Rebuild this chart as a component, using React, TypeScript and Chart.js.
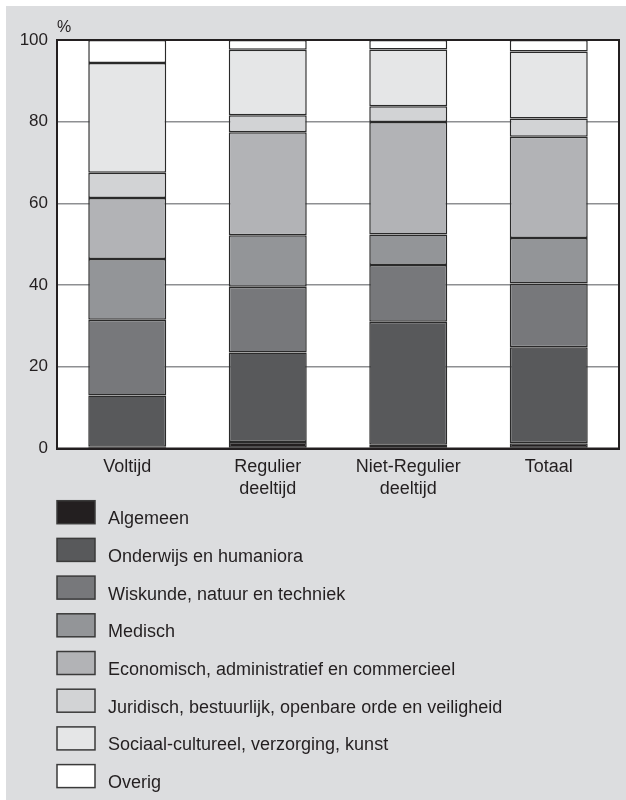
import React, { useEffect, useRef } from "react";
import { Chart, registerables } from "chart.js";

Chart.register(...registerables);

const categories: string[][] = [["Voltijd"], ["Regulier", "deeltijd"], ["Niet-Regulier", "deeltijd"], ["Totaal"]];
const seriesNames = [
  "Algemeen",
  "Onderwijs en humaniora",
  "Wiskunde, natuur en techniek",
  "Medisch",
  "Economisch, administratief en commercieel",
  "Juridisch, bestuurlijk, openbare orde en veiligheid",
  "Sociaal-cultureel, verzorging, kunst",
  "Overig",
];
const algemeen = [0.4, 1.6, 0.9, 1.3];
const onderwijs = [12.6, 21.9, 30.1, 23.5];
const wiskunde = [18.5, 16.1, 13.9, 15.6];
const medisch = [14.9, 12.6, 7.5, 11.1];
const economisch = [14.9, 25.2, 27.5, 24.8];
const juridisch = [6.2, 4.2, 3.9, 4.5];
const sociaal = [26.9, 16.0, 13.9, 16.4];
const overig = [5.6, 2.4, 2.3, 2.8];
const yTicks = [0, 20, 40, 60, 80, 100];
const unitLabel = "%";

const seriesValues = [algemeen, onderwijs, wiskunde, medisch, economisch, juridisch, sociaal, overig];
const colors = ["#231f20", "#58595b", "#77787b", "#939598", "#b2b3b6", "#d2d3d5", "#e5e6e7", "#ffffff"];
const FONT = '"Liberation Sans", Arial, Helvetica, sans-serif';
const INK = "#231f20";

const panelPlugin = {
  id: "panel",
  beforeDraw(chart: any) {
    const { ctx, chartArea } = chart;
    ctx.save();
    ctx.fillStyle = "#ffffff";
    ctx.fillRect(0, 0, chart.width, chart.height);
    ctx.fillStyle = "#dcdddf";
    ctx.fillRect(6, 6, chart.width - 6, chart.height - 6);
    ctx.fillStyle = "#ffffff";
    ctx.fillRect(chartArea.left, chartArea.top, chartArea.right - chartArea.left, chartArea.bottom - chartArea.top);
    ctx.restore();
  },
  afterDatasetsDraw(chart: any) {
    const { ctx, chartArea } = chart;
    ctx.save();
    ctx.strokeStyle = INK;
    ctx.lineWidth = 2;
    ctx.strokeRect(chartArea.left, chartArea.top, chartArea.right - chartArea.left, chartArea.bottom - chartArea.top);
    ctx.restore();
  },
  afterDraw(chart: any) {
    const { ctx, chartArea } = chart;
    ctx.save();
    ctx.fillStyle = INK;
    ctx.font = `16px ${FONT}`;
    ctx.textBaseline = "alphabetic";
    ctx.textAlign = "left";
    ctx.fillText(unitLabel, chartArea.left, chartArea.top - 8);
    // legend
    const top0 = 500.7;
    const step = 37.7;
    chart.data.datasets.forEach((ds: any, i: number) => {
      const y = top0 + i * step;
      ctx.fillStyle = ds.backgroundColor;
      ctx.fillRect(57, y, 38, 23);
      ctx.strokeStyle = "#3a3a3a";
      ctx.lineWidth = 1.5;
      ctx.strokeRect(57, y, 38, 23);
      ctx.fillStyle = INK;
      ctx.font = `18px ${FONT}`;
      ctx.fillText(ds.label, 108, y + 23.5);
    });
    ctx.restore();
  },
};

export default function App() {
  const ref = useRef<HTMLCanvasElement>(null);
  useEffect(() => {
    document.body.style.margin = "0";
    if (!ref.current) return;
    const chart = new Chart(ref.current, {
      type: "bar",
      data: {
        labels: categories,
        datasets: seriesValues.map((vals, i) => ({
          label: seriesNames[i],
          data: vals,
          backgroundColor: colors[i],
          borderColor: "#2a2a2a",
          borderWidth: 1.5,
          borderSkipped: false,
          barPercentage: 0.555,
          categoryPercentage: 1,
        })),
      },
      options: {
        animation: false,
        responsive: false,
        layout: { padding: { left: 6, right: 7, top: 40, bottom: 0 } },
        plugins: { legend: { display: false }, tooltip: { enabled: false } },
        scales: {
          x: {
            stacked: true,
            grid: { display: false, drawTicks: false },
            border: { display: true, color: INK, width: 2 },
            ticks: { color: INK, font: { family: FONT, size: 18, lineHeight: 1.2 }, padding: 8, maxRotation: 0 },
            afterFit: (s: any) => {
              s.height = 351.5;
            },
          },
          y: {
            stacked: true,
            min: 0,
            max: 100,
            afterBuildTicks: (s: any) => {
              s.ticks = yTicks.map((v) => ({ value: v }));
            },
            grid: { color: "#8e8f92", lineWidth: 1.5, drawTicks: false },
            border: { display: true, color: INK, width: 2 },
            ticks: { color: INK, font: { family: FONT, size: 17 }, padding: 9 },
            afterFit: (s: any) => {
              s.width = 51;
            },
          },
        },
      },
      plugins: [panelPlugin],
    });
    return () => chart.destroy();
  }, []);
  return <canvas ref={ref} width={626} height={800} style={{ display: "block" }} />;
}
